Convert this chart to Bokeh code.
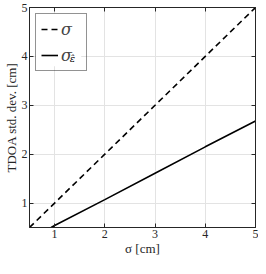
from bokeh.plotting import figure
from bokeh.models import (Range1d, FixedTicker, LinearAxis, Legend, LegendItem, Label,
                          CustomJSTickFormatter, BoxAnnotation)
from bokeh.embed import file_html
from bokeh.resources import INLINE

# data
sigma_x = [0.5, 1, 2, 3, 4, 5]
sigma_y = [0.5, 1, 2, 3, 4, 5]
sigma_eps_x = [0.93, 1, 2, 3, 4, 5]
sigma_eps_y = [0.5, 0.54, 1.07, 1.61, 2.15, 2.68]
ticks = [1, 2, 3, 4, 5]

FONT = "Liberation Serif"
DARK = "#262626"

p = figure(width=258, height=258, output_backend="svg", toolbar_location=None,
           x_range=Range1d(0.5, 5), y_range=Range1d(0.5, 5),
           min_border_left=26, min_border_right=3, min_border_top=7, min_border_bottom=30)
p.outline_line_color = DARK
p.outline_line_width = 1
p.background_fill_color = "white"
p.border_fill_color = "white"

r1 = p.line(sigma_x, sigma_y, line_color="black", line_width=1.6, line_dash="6 4")
r2 = p.line(sigma_eps_x, sigma_eps_y, line_color="black", line_width=1.6)

for ax in (p.xaxis[0], p.yaxis[0]):
    ax.ticker = FixedTicker(ticks=ticks)
    ax.major_tick_in = 4
    ax.major_tick_out = 0
    ax.minor_tick_in = 0
    ax.minor_tick_out = 0
    ax.axis_line_color = DARK
    ax.major_tick_line_color = DARK
    ax.major_label_text_font = FONT
    ax.major_label_text_font_size = "12px"
    ax.major_label_text_color = DARK
    ax.major_label_standoff = 2
    ax.axis_label_text_font = FONT
    ax.axis_label_text_font_size = "13px"
    ax.axis_label_text_font_style = "normal"
    ax.axis_label_text_color = DARK
    ax.axis_label_standoff = 0

p.xaxis[0].axis_label = "σ [cm]"
p.yaxis[0].axis_label = "TDOA std. dev. [cm]"

for loc in ("right", "above"):
    a = LinearAxis(ticker=FixedTicker(ticks=ticks), major_tick_in=4, major_tick_out=0,
                   minor_tick_in=0, minor_tick_out=0,
                   formatter=CustomJSTickFormatter(code="return ''"),
                   major_label_standoff=0, axis_line_color=DARK, major_tick_line_color=DARK)
    p.add_layout(a, loc)

p.xgrid.ticker = FixedTicker(ticks=ticks)
p.ygrid.ticker = FixedTicker(ticks=ticks)
p.xgrid.grid_line_color = "#e3e3e3"
p.ygrid.grid_line_color = "#e3e3e3"

# white backing for the legend area (legend itself is transparent so the subscript shows)
p.add_layout(BoxAnnotation(left=0.63, right=1.53, top=4.88, bottom=3.8,
                           fill_color="white", fill_alpha=1, line_color=None))

legend = Legend(items=[LegendItem(label="σ", renderers=[r1]),
                       LegendItem(label="σ", renderers=[r2])],
                location="top_left", margin=6, padding=5, spacing=6,
                glyph_width=17, glyph_height=20, label_height=20, label_standoff=3,
                label_text_font="DejaVu Serif", label_text_font_size="16px",
                label_text_font_style="italic",
                border_line_color=DARK, border_line_width=1,
                background_fill_color="white", background_fill_alpha=0)
p.add_layout(legend)

sub = Label(x=1.3, y=3.85, text="ε̂",
            text_font="DejaVu Serif", text_font_size="10px", text_font_style="italic",
            text_color="black")
p.add_layout(sub)

open("out.html", "w").write(file_html(p, INLINE))
